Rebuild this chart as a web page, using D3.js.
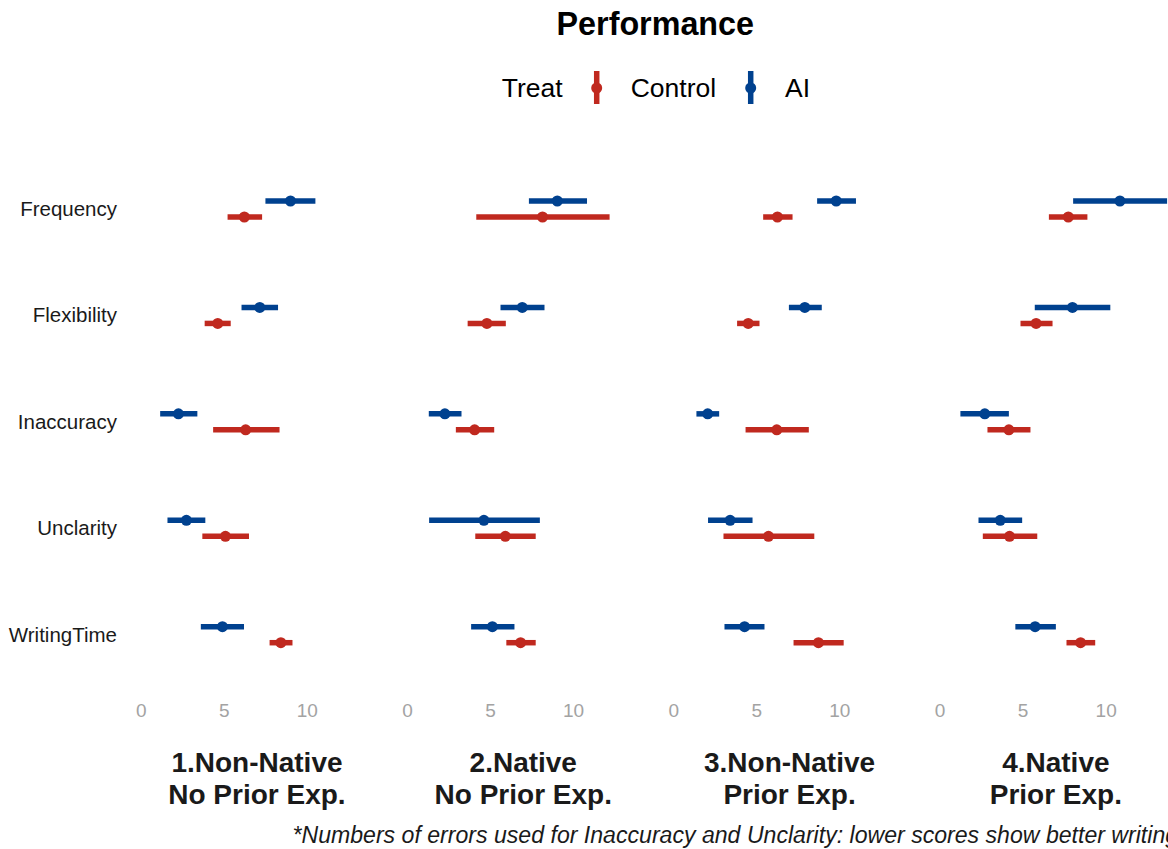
<!DOCTYPE html>
<html>
<head>
<meta charset="utf-8">
<script src="https://cdn.jsdelivr.net/npm/d3@7"></script>
<style>
  html, body { margin: 0; padding: 0; background: white; }
  svg { display: block; }
</style>
</head>
<body>
<div id="chart"></div>
<script>
// data
const groups = ["1.Non-Native\nNo Prior Exp.", "2.Native\nNo Prior Exp.", "3.Non-Native\nPrior Exp.", "4.Native\nPrior Exp."];
const metrics = ["Frequency", "Flexibility", "Inaccuracy", "Unclarity", "WritingTime"];
const treatments = ["Control", "AI"];
const xTicks = [0, 5, 10];

// one row per group, one value per metric
const aiMean = [
  [9.02, 7.17, 2.27, 2.75, 4.92],
  [9.05, 6.94, 2.28, 4.63, 5.14],
  [9.81, 7.92, 2.07, 3.42, 4.29],
  [10.86, 8.00, 2.72, 3.65, 5.75]
];
const aiLow = [
  [7.51, 6.07, 1.17, 1.61, 3.62],
  [7.34, 5.63, 1.31, 1.33, 3.86],
  [8.66, 6.96, 1.39, 2.09, 3.08],
  [8.04, 5.73, 1.25, 2.34, 4.56]
];
const aiHigh = [
  [10.52, 8.27, 3.41, 3.89, 6.22],
  [10.84, 8.28, 3.28, 8.00, 6.47],
  [11.00, 8.94, 2.76, 4.77, 5.49],
  [13.70, 10.28, 4.17, 4.97, 7.00]
];
const controlMean = [
  [6.24, 4.64, 6.32, 5.10, 8.44],
  [8.16, 4.81, 4.07, 5.92, 6.84],
  [6.27, 4.51, 6.23, 5.73, 8.74],
  [7.75, 5.81, 4.17, 4.21, 8.49]
];
const controlLow = [
  [5.23, 3.85, 4.36, 3.71, 7.76],
  [4.17, 3.65, 2.94, 4.11, 5.98],
  [5.41, 3.84, 4.35, 3.02, 7.24],
  [6.58, 4.87, 2.88, 2.60, 7.64]
];
const controlHigh = [
  [7.31, 5.42, 8.36, 6.52, 9.14],
  [12.20, 5.95, 5.25, 7.75, 7.75],
  [7.18, 5.19, 8.16, 8.49, 10.26],
  [8.90, 6.80, 5.47, 5.88, 9.37]
];

const series = {
  AI: { mean: aiMean, low: aiLow, high: aiHigh },
  Control: { mean: controlMean, low: controlLow, high: controlHigh }
};

// build long table
const rows = [];
groups.forEach((g, gi) => {
  metrics.forEach((m, mi) => {
    treatments.forEach((t) => {
      rows.push({
        group: g, gi: gi, metric: m, treat: t,
        mean: series[t].mean[gi][mi],
        low: series[t].low[gi][mi],
        high: series[t].high[gi][mi]
      });
    });
  });
});

// layout
const W = 1168, H = 849;
const font = "'Liberation Sans', Arial, Helvetica, sans-serif";
const colour = d3.scaleOrdinal().domain(treatments).range(["#C0291F", "#00418F"]);

const panelW = 259;
const panelStep = 266.3;
const panelLeft = 125.8;

const fx = d3.scaleBand()
  .domain(groups)
  .range([panelLeft, panelLeft + panelStep * groups.length])
  .paddingInner(0);

const x = d3.scaleLinear().domain([-0.9, 14.7]).range([0, panelW]);

const y = d3.scalePoint().domain(metrics).range([209, 634.7]);
const dodge = d3.scalePoint().domain(["AI", "Control"]).range([-8, 8]);

const svg = d3.select("#chart")
  .append("svg")
  .attr("width", W)
  .attr("height", H)
  .attr("viewBox", [0, 0, W, H])
  .style("background", "white");

// title
svg.append("text")
  .attr("x", 655.3)
  .attr("y", 35)
  .attr("text-anchor", "middle")
  .attr("font-family", font)
  .attr("font-weight", "bold")
  .attr("font-size", 32.3)
  .attr("fill", "#000")
  .text("Performance");

// legend
const legend = svg.append("g").attr("font-family", font).attr("font-size", 26.5);
legend.append("text").attr("x", 501.7).attr("y", 97).text("Treat");
const legendItems = [
  { key: "Control", kx: 596.7, tx: 630.7 },
  { key: "AI", kx: 750.7, tx: 785 }
];
legendItems.forEach((d) => {
  legend.append("line")
    .attr("x1", d.kx).attr("x2", d.kx)
    .attr("y1", 71).attr("y2", 104)
    .attr("stroke", colour(d.key))
    .attr("stroke-width", 5.5);
  legend.append("circle")
    .attr("cx", d.kx).attr("cy", 88).attr("r", 5.5)
    .attr("fill", colour(d.key));
  legend.append("text").attr("x", d.tx).attr("y", 97).text(d.key);
});

// y axis labels
svg.append("g")
  .attr("transform", "translate(120,0)")
  .call(d3.axisLeft(y).tickSize(0).tickPadding(3))
  .call((g) => g.select(".domain").remove())
  .selectAll("text")
  .attr("font-family", font)
  .attr("font-size", 20.5)
  .attr("fill", "#1a1a1a");

// panels
const panels = svg.selectAll("g.panel")
  .data(groups)
  .join("g")
  .attr("class", "panel")
  .attr("transform", (d) => `translate(${fx(d)},0)`);

// x axis per panel
panels.append("g")
  .attr("transform", "translate(0,699)")
  .call(d3.axisBottom(x).tickValues(xTicks).tickSize(0).tickPadding(5))
  .call((g) => g.select(".domain").remove())
  .selectAll("text")
  .attr("font-family", font)
  .attr("font-size", 19)
  .attr("fill", "#a3a3a3");

// strip labels at bottom
panels.append("text")
  .attr("x", x(7.0))
  .attr("text-anchor", "middle")
  .attr("font-family", font)
  .attr("font-weight", "bold")
  .attr("font-size", 28)
  .attr("fill", "#1a1a1a")
  .selectAll("tspan")
  .data((d) => d.split("\n"))
  .join("tspan")
  .attr("x", x(7.0))
  .attr("y", (d, i) => 772 + i * 32)
  .text((d) => d);

// error bars + points
panels.each(function (g) {
  const data = rows.filter((r) => r.group === g);
  const p = d3.select(this);
  p.selectAll("line.range")
    .data(data)
    .join("line")
    .attr("class", "range")
    .attr("x1", (d) => x(d.low))
    .attr("x2", (d) => x(d.high))
    .attr("y1", (d) => y(d.metric) + dodge(d.treat))
    .attr("y2", (d) => y(d.metric) + dodge(d.treat))
    .attr("stroke", (d) => colour(d.treat))
    .attr("stroke-width", 5.5);
  p.selectAll("circle.mean")
    .data(data)
    .join("circle")
    .attr("class", "mean")
    .attr("cx", (d) => x(d.mean))
    .attr("cy", (d) => y(d.metric) + dodge(d.treat))
    .attr("r", 5.5)
    .attr("fill", (d) => colour(d.treat));
});

// footnote (runs past the right edge, as in the reference)
svg.append("text")
  .attr("x", 292.5)
  .attr("y", 843)
  .attr("font-family", font)
  .attr("font-style", "italic")
  .attr("font-size", 23.1)
  .attr("fill", "#1a1a1a")
  .text("*Numbers of errors used for Inaccuracy and Unclarity: lower scores show better writing performance");
</script>
</body>
</html>
